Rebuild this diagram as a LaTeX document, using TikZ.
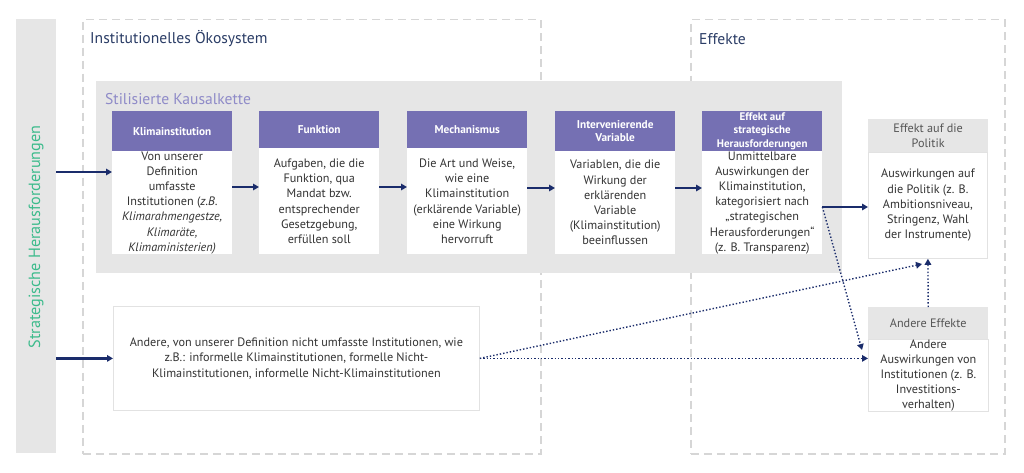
\documentclass[tikz,border=0pt]{standalone}
\usepackage{fontspec}
\setmainfont{PT Sans}
\usetikzlibrary{arrows.meta}
\definecolor{panelgray}{HTML}{E6E6E6}
\definecolor{dashgray}{HTML}{D6D6D6}
\definecolor{hdrpurple}{HTML}{7570B3}
\definecolor{navy}{HTML}{1A2C6B}
\definecolor{titleblue}{HTML}{2B3D66}
\definecolor{kausal}{HTML}{8F8BC8}
\definecolor{stratgreen}{HTML}{3DBB8C}
\definecolor{bodytxt}{HTML}{333333}
\definecolor{hdrtxt}{HTML}{555555}
\definecolor{boxborder}{HTML}{E2E2E2}
\tikzset{
  dashbox/.style={draw=dashgray, line width=1.5pt, dash pattern=on 8pt off 5pt},
  hdr/.style={fill=hdrpurple, text=white, font=\bfseries\fontsize{11.3}{13.5}\selectfont, align=center, inner sep=0pt, minimum width=120pt, anchor=north west},
  bodybox/.style={fill=white, text=bodytxt, font=\fontsize{12.2}{15.2}\selectfont, align=center, inner sep=0pt, minimum width=120pt, anchor=north west},
  ghdr/.style={fill=panelgray, text=hdrtxt, font=\fontsize{12.2}{15}\selectfont, align=center, inner sep=0pt, minimum width=120pt, anchor=north west},
  wbox/.style={fill=white, draw=boxborder, line width=0.8pt, text=bodytxt, font=\fontsize{12.2}{15.2}\selectfont, align=center, inner sep=0pt, anchor=north west},
  arr/.style={draw=navy, line width=2.2pt, -{Triangle[length=6pt,width=6.5pt]}},
  darr/.style={draw=navy, line width=1.4pt, dotted, -{Triangle[length=6pt,width=6.5pt]}},
  ttl/.style={text=titleblue, font=\fontsize{15.6}{18}\selectfont, anchor=west, inner sep=0pt}
}
\begin{document}
\begin{tikzpicture}[x=1pt,y=-1pt]
\useasboundingbox[fill=white] (0,0) rectangle (1024,473);
% left bar
\node[fill=panelgray, minimum width=40pt, minimum height=434pt, anchor=north west, inner sep=0pt] (strat) at (16,19) {};
\node[rotate=90, text=stratgreen, font=\fontsize{16.2}{19}\selectfont] (strattxt) at (36,237) {Strategische Herausforderungen};
% dashed frames
\node[dashbox, minimum width=458pt, minimum height=434pt, anchor=north west, inner sep=0pt] (oeko) at (82,19) {};
\node[dashbox, minimum width=314pt, minimum height=434pt, anchor=north west, inner sep=0pt] (eff) at (690,19) {};
\node[ttl] (oekotxt) at (90,39) {Institutionelles Ökosystem};
\node[ttl] (efftxt) at (699,39) {Effekte};
% panel
\node[fill=panelgray, minimum width=746pt, minimum height=192pt, anchor=north west, inner sep=0pt] (panel) at (96,81) {};
\node[text=kausal, font=\fontsize{15.6}{18}\selectfont, anchor=west, inner sep=0pt] (paneltxt) at (105,99) {Stilisierte Kausalkette};
% chain boxes
\node[hdr, minimum height=40pt] (k1h) at (112,111) {Klimainstitution};
\node[bodybox, minimum height=103pt] (k1b) at (112,151) {Von unserer\\Definition\\umfasste\\Institutionen (\textit{z.B.}\\\textit{Klimarahmengestze,}\\\textit{Klimaräte,}\\\textit{Klimaministerien)}};
\node[hdr, minimum height=37pt] (k2h) at (259,111) {Funktion};
\node[bodybox, minimum height=106pt] (k2b) at (259,148) {Aufgaben, die die\\Funktion, qua\\Mandat bzw.\\entsprechender\\Gesetzgebung,\\erfüllen soll};
\node[hdr, minimum height=37pt] (k3h) at (407,111) {Mechanismus};
\node[bodybox, minimum height=106pt] (k3b) at (407,148) {Die Art und Weise,\\wie eine\\Klimainstitution\\(erklärende Variable)\\eine Wirkung\\hervorruft};
\node[hdr, minimum height=40pt] (k4h) at (555,111) {Intervenierende\\Variable};
\node[hdr, minimum height=40pt, font=\bfseries\fontsize{11}{13.2}\selectfont] (k5h) at (702,111) {Effekt auf\\strategische\\Herausforderungen};
\node[bodybox, minimum height=103pt] (k4b) at (555,151) {Variablen, die die\\Wirkung der\\erklärenden\\Variable\\(Klimainstitution)\\beeinflussen};
\node[bodybox, minimum height=103pt] (k5b) at (702,151) {Unmittelbare\\Auswirkungen der\\Klimainstitution,\\kategorisiert nach\\„strategischen\\Herausforderungen“\\(z. B. Transparenz)};
% effects
\node[ghdr, minimum height=33pt] (polh) at (868,119) {Effekt auf die\\Politik};
\node[wbox, minimum width=119pt, minimum height=106pt] (polb) at (868,152) {Auswirkungen auf\\die Politik (z. B.\\Ambitionsniveau,\\Stringenz, Wahl\\der Instrumente)};
\node[ghdr, minimum height=32pt] (andh) at (868,307) {Andere Effekte};
\node[wbox, minimum width=120pt, minimum height=71pt] (andb) at (868,339) {Andere\\Auswirkungen von\\Institutionen (z. B.\\Investitions-\\verhalten)};
% other institutions
\node[wbox, minimum width=366pt, minimum height=104pt, font=\fontsize{12.2}{15.3}\selectfont] (other) at (113,306) {Andere, von unserer Definition nicht umfasste Institutionen, wie\\z.B.: informelle Klimainstitutionen, formelle Nicht-\\Klimainstitutionen, informelle Nicht-Klimainstitutionen};
% coordinates
\coordinate (dpol) at (922,264);
\coordinate (dand) at (862,350);
% solid arrows
\draw[arr] (strat.east |- 0,172) -- (k1b.west |- 0,172);
\draw[arr] (k1b.east |- 0,187) -- (k2b.west |- 0,187);
\draw[arr] (k2b.east |- 0,187) -- (k3b.west |- 0,187);
\draw[arr] (k3b.east |- 0,188) -- (k4b.west |- 0,188);
\draw[arr] (k4b.east |- 0,188) -- (k5b.west |- 0,188);
\draw[arr] (k5b.east |- 0,207) -- (polb.west |- 0,207);
\draw[arr] (strat.east |- other.west) -- (other.west);
% dotted arrows
\draw[darr] (other.east) -- (dpol);
\draw[darr] (other.east) -- (andb.west |- other.east);
\draw[darr] (k5b.east |- 0,207) -- (dand);
\draw[darr] (andh.north) -- (polb.south);
\end{tikzpicture}
\end{document}
